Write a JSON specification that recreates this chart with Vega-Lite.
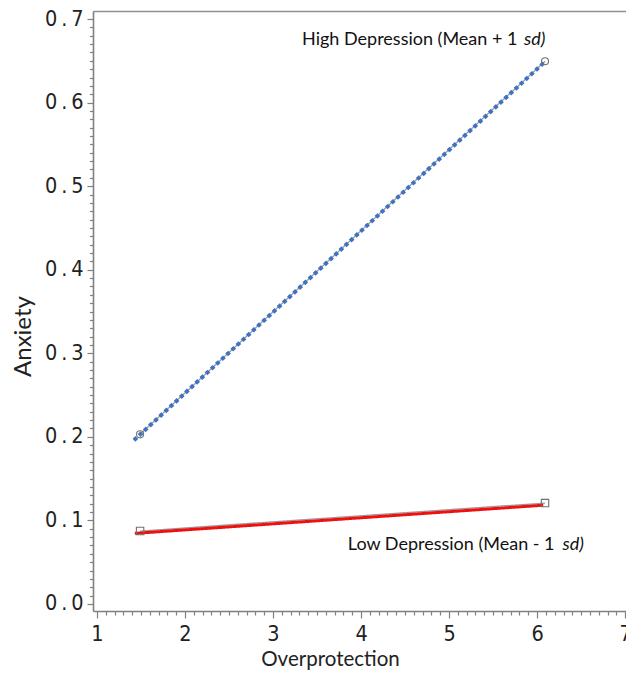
{
  "$schema": "https://vega.github.io/schema/vega-lite/v6.json",
  "width": 533,
  "height": 600,
  "autosize": {"type": "none"},
  "padding": {"left": 93, "top": 11, "right": 0, "bottom": 65},
  "background": "white",
  "config": {"view": {"stroke": null}, "axis": {"labelOverlap": false, "labelBound": false}},
  "datasets": {
    "markers": [
      {"grp": "High", "x": 1.49, "y": 0.203},
      {"grp": "High", "x": 6.09, "y": 0.6495},
      {"grp": "Low", "x": 1.49, "y": 0.0873},
      {"grp": "Low", "x": 6.09, "y": 0.1208}
    ],
    "fits": [
      {"grp": "High", "x": 1.42, "y": 0.196},
      {"grp": "High", "x": 6.08, "y": 0.648},
      {"grp": "Low", "x": 1.43, "y": 0.0845},
      {"grp": "Low", "x": 6.07, "y": 0.1182}
    ],
    "labels": [
      {"x": 3.33, "y": 0.6746, "t": "High Depression (Mean + 1", "it": "sd)", "xi": 5.852},
      {"x": 3.85, "y": 0.0706, "t": "Low Depression (Mean - 1", "it": "sd)", "xi": 6.29}
    ]
  },
  "encoding": {
    "y": {
      "field": "y", "type": "quantitative",
      "scale": {"domain": [-0.0084, 0.7096], "nice": false, "zero": false},
      "axis": {
        "title": "Anxiety",
        "titleFont": "Lato", "titleFontSize": 24, "titleFontWeight": "normal", "titleColor": "#222",
        "titlePadding": 9, "titleY": 325,
        "values": [0,0.01,0.02,0.03,0.04,0.05,0.06,0.07,0.08,0.09,0.1,0.11,0.12,0.13,0.14,0.15,0.16,0.17,0.18,0.19,0.2,0.21,0.22,0.23,0.24,0.25,0.26,0.27,0.28,0.29,0.3,0.31,0.32,0.33,0.34,0.35,0.36,0.37,0.38,0.39,0.4,0.41,0.42,0.43,0.44,0.45,0.46,0.47,0.48,0.49,0.5,0.51,0.52,0.53,0.54,0.55,0.56,0.57,0.58,0.59,0.6,0.61,0.62,0.63,0.64,0.65,0.66,0.67,0.68,0.69,0.7],
        "labelExpr": "abs(datum.value * 10 - round(datum.value * 10)) < 0.001 ? replace(format(datum.value, '.1f'), '.', '\u2009.\u2009') : ''",
        "labelOverlap": false,
        "labelFont": "Liberation Sans Narrow, DejaVu Sans Condensed, sans-serif",
        "labelFontSize": 21.5, "labelColor": "#222", "labelPadding": 4,
        "labelFlush": false,
        "tickSize": {"condition": {"test": "abs(datum.value * 10 - round(datum.value * 10)) < 0.001", "value": 6}, "value": 3.5},
        "tickColor": "#808080", "tickWidth": 1.2,
        "domainColor": "#808080", "domainWidth": 1.6,
        "grid": false
      }
    }
  },
  "layer": [
    {
      "data": {"name": "markers"},
      "mark": {"type": "line", "color": "#9a9a9a", "strokeWidth": 1.3},
      "encoding": {
        "x": {
          "field": "x", "type": "quantitative",
          "scale": {"domain": [0.955, 7.01], "nice": false, "zero": false},
          "axis": {
            "title": "Overprotection",
            "titleFont": "Lato", "titleFontSize": 20.5, "titleFontWeight": "normal", "titleColor": "#222",
            "titlePadding": 5, "titleX": 237,
            "values": [1,1.1,1.2,1.3,1.4,1.5,1.6,1.7,1.8,1.9,2,2.1,2.2,2.3,2.4,2.5,2.6,2.7,2.8,2.9,3,3.1,3.2,3.3,3.4,3.5,3.6,3.7,3.8,3.9,4,4.1,4.2,4.3,4.4,4.5,4.6,4.7,4.8,4.9,5,5.1,5.2,5.3,5.4,5.5,5.6,5.7,5.8,5.9,6,6.1,6.2,6.3,6.4,6.5,6.6,6.7,6.8,6.9,7],
            "labelExpr": "abs(datum.value - round(datum.value)) < 0.001 ? format(datum.value, 'd') : ''",
            "labelOverlap": false,
            "labelFont": "Liberation Sans Narrow, DejaVu Sans Condensed, sans-serif",
            "labelFontSize": 21.5, "labelColor": "#222", "labelPadding": 5,
            "labelFlush": false,
            "tickSize": {"condition": {"test": "abs(datum.value - round(datum.value)) < 0.001", "value": 7}, "value": 4},
            "tickColor": "#808080", "tickWidth": 1.2,
            "domainColor": "#808080", "domainWidth": 1.6,
            "grid": false
          }
        },
        "detail": {"field": "grp"}
      }
    },
    {
      "data": {"name": "fits"},
      "mark": {"type": "line", "strokeCap": "butt"},
      "encoding": {
        "x": {"field": "x", "type": "quantitative", "axis": null},
        "color": {"field": "grp", "type": "nominal", "scale": {"domain": ["High", "Low"], "range": ["#3f72c2", "#f01010"]}, "legend": null},
        "strokeDash": {"field": "grp", "type": "nominal", "scale": {"domain": ["High", "Low"], "range": [[4, 3], [1, 0]]}, "legend": null},
        "strokeWidth": {"field": "grp", "type": "nominal", "scale": {"domain": ["High", "Low"], "range": [4, 3]}, "legend": null}
      }
    },
    {
      "data": {"name": "markers"},
      "mark": {"type": "point", "filled": false, "stroke": "#707070", "strokeWidth": 1.1, "opacity": 1},
      "encoding": {
        "x": {"field": "x", "type": "quantitative", "axis": null},
        "shape": {"field": "grp", "type": "nominal", "scale": {"domain": ["High", "Low"], "range": ["circle", "square"]}, "legend": null},
        "size": {"field": "grp", "type": "nominal", "scale": {"domain": ["High", "Low"], "range": [50, 55]}, "legend": null}
      }
    },
    {
      "data": {"name": "labels"},
      "mark": {"type": "text", "align": "left", "baseline": "middle", "font": "Lato", "fontSize": 18, "color": "#111"},
      "encoding": {
        "x": {"field": "x", "type": "quantitative", "axis": null},
        "text": {"field": "t"}
      }
    },
    {
      "data": {"name": "labels"},
      "mark": {"type": "text", "align": "left", "baseline": "middle", "font": "Lato", "fontSize": 18, "fontStyle": "italic", "color": "#111"},
      "encoding": {
        "x": {"field": "xi", "type": "quantitative", "axis": null},
        "text": {"field": "it"}
      }
    },
    {
      "data": {"name": "markers"},
      "mark": {"type": "point", "opacity": 0},
      "encoding": {
        "x": {"field": "x", "type": "quantitative", "axis": {"orient": "top", "title": null, "labels": false, "ticks": false, "domainColor": "#909090", "domainWidth": 1.6, "grid": false}}
      }
    }
  ],
  "resolve": {"axis": {"x": "independent"}}
}
